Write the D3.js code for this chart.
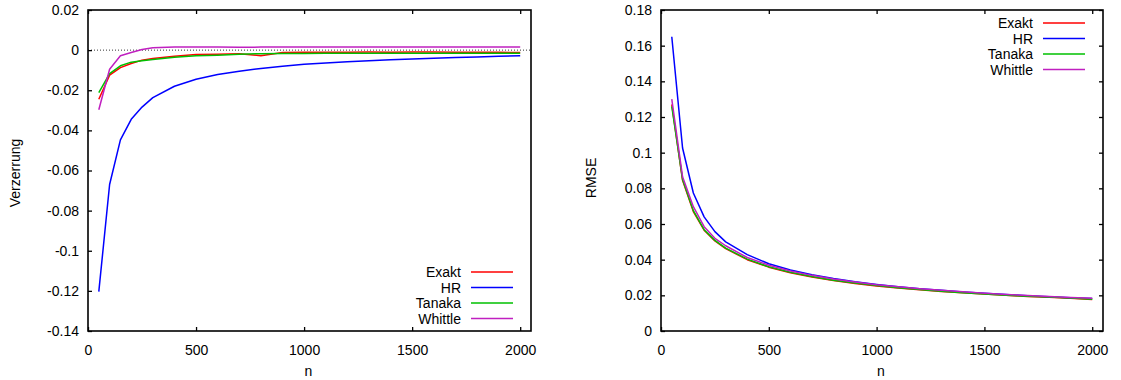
<!DOCTYPE html>
<html>
<head>
<meta charset="utf-8">
<script src="https://cdn.jsdelivr.net/npm/d3@7"></script>
<style>
  body { margin: 0; background: #fff; }
  text { font-family: "Liberation Sans", Arial, sans-serif; font-size: 14px; fill: #000; }
</style>
</head>
<body>
<div id="chart"></div>
<script>
// sample sizes
const nValues = [50, 100, 150, 200, 250, 300, 400, 500, 600, 700, 800, 900, 1000,
  1100, 1200, 1300, 1400, 1500, 1600, 1700, 1800, 1900, 2000];

const seriesNames = ["Exakt", "HR", "Tanaka", "Whittle"];
const seriesColors = ["#ff0000", "#0000ff", "#00c000", "#c020c0"];

// bias (Verzerrung)
const biasExakt = [-0.0245, -0.0125, -0.0087, -0.0067, -0.0050, -0.0042, -0.0030, -0.0022, -0.0020,
  -0.0018, -0.0028, -0.0012, -0.0011, -0.0010, -0.0010, -0.0009, -0.0010, -0.0009, -0.0009,
  -0.0010, -0.0011, -0.0011, -0.0012];
const biasHR = [-0.1204, -0.0670, -0.0447, -0.0345, -0.0284, -0.0237, -0.0180, -0.0145, -0.0122,
  -0.0105, -0.0091, -0.0080, -0.0071, -0.0064, -0.0058, -0.0053, -0.0048, -0.0044, -0.0040,
  -0.0037, -0.0034, -0.0031, -0.0028];
const biasTanaka = [-0.0212, -0.0117, -0.0078, -0.0060, -0.0053, -0.0047, -0.0035, -0.0028, -0.0025,
  -0.0020, -0.0018, -0.0017, -0.0017, -0.0016, -0.0016, -0.0015, -0.0016, -0.0015, -0.0015,
  -0.0015, -0.0015, -0.0015, -0.0015];
const biasWhittle = [-0.0297, -0.0095, -0.0028, -0.0012, 0.0003, 0.0012, 0.0015, 0.0015, 0.0015,
  0.0014, 0.0015, 0.0015, 0.0015, 0.0015, 0.0015, 0.0015, 0.0015, 0.0015, 0.0015,
  0.0015, 0.0015, 0.0015, 0.0015];

// RMSE
const rmseExakt = [0.127, 0.0845, 0.0670, 0.0565, 0.0505, 0.0462, 0.0400, 0.0358, 0.0327, 0.0303,
  0.0283, 0.0267, 0.0253, 0.0241, 0.0231, 0.0222, 0.0214, 0.0207, 0.0200, 0.0194, 0.0189,
  0.0184, 0.0177];
const rmseHR = [0.165, 0.1026, 0.0774, 0.0640, 0.0557, 0.0500, 0.0428, 0.0377, 0.0342, 0.0315,
  0.0294, 0.0276, 0.0261, 0.0248, 0.0237, 0.0228, 0.0219, 0.0211, 0.0204, 0.0198, 0.0192,
  0.0187, 0.0182];
const rmseTanaka = [0.126, 0.0850, 0.0675, 0.0568, 0.0508, 0.0465, 0.0403, 0.0360, 0.0329, 0.0305,
  0.0285, 0.0269, 0.0255, 0.0243, 0.0232, 0.0223, 0.0215, 0.0208, 0.0201, 0.0195, 0.0190,
  0.0185, 0.0178];
const rmseWhittle = [0.130, 0.0865, 0.0697, 0.0585, 0.0520, 0.0478, 0.0412, 0.0369, 0.0337, 0.0312,
  0.0292, 0.0275, 0.0260, 0.0248, 0.0237, 0.0228, 0.0220, 0.0212, 0.0205, 0.0199, 0.0193,
  0.0188, 0.0183];

// ticks
const xTicks = [0, 500, 1000, 1500, 2000];
const biasTicks = [0.02, 0, -0.02, -0.04, -0.06, -0.08, -0.1, -0.12, -0.14];
const biasTickLabels = ["0.02", "0", "-0.02", "-0.04", "-0.06", "-0.08", "-0.1", "-0.12", "-0.14"];
const rmseTicks = [0, 0.02, 0.04, 0.06, 0.08, 0.1, 0.12, 0.14, 0.16, 0.18];
const rmseTickLabels = ["0", "0.02", "0.04", "0.06", "0.08", "0.1", "0.12", "0.14", "0.16", "0.18"];

const width = 1121, height = 380;

const svg = d3.select("#chart")
  .append("svg")
  .attr("width", width)
  .attr("height", height)
  .attr("viewBox", `0 0 ${width} ${height}`);

// draws one gnuplot-like panel
const drawPanel = (p) => {
  const x = d3.scaleLinear().domain([0, 2050]).range([p.left, p.right]);
  const y = d3.scaleLinear().domain(p.yDomain).range([p.bottom, p.top]);
  const g = svg.append("g");

  // bottom axis with labels
  g.append("g")
    .attr("transform", `translate(0,${p.bottom})`)
    .call(d3.axisBottom(x).tickValues(xTicks).tickFormat(d3.format("d"))
      .tickSizeInner(-4).tickSizeOuter(0).tickPadding(14));
  // top mirror ticks
  g.append("g")
    .attr("transform", `translate(0,${p.top})`)
    .call(d3.axisTop(x).tickValues(xTicks).tickFormat("")
      .tickSizeInner(-4).tickSizeOuter(0));
  // left axis
  g.append("g")
    .attr("transform", `translate(${p.left},0)`)
    .call(d3.axisLeft(y).tickValues(p.yTicks).tickFormat((d, i) => p.yLabels[i])
      .tickSizeInner(-4).tickSizeOuter(0).tickPadding(9));
  if (p.mirrorY) {
    g.append("g")
      .attr("transform", `translate(${p.right},0)`)
      .call(d3.axisRight(y).tickValues(p.yTicks).tickFormat("")
        .tickSizeInner(-4).tickSizeOuter(0));
  }
  g.selectAll(".domain").remove();
  g.selectAll(".tick line").attr("stroke", "#000").attr("stroke-width", 1.3);
  g.selectAll(".tick text").attr("font-size", 14).attr("font-family", "Liberation Sans, Arial, sans-serif").attr("fill", "#000");

  if (p.zeroLine) {
    g.append("line")
      .attr("x1", p.left).attr("x2", p.right)
      .attr("y1", y(0)).attr("y2", y(0))
      .attr("stroke", "#000").attr("stroke-width", 0.8)
      .attr("stroke-dasharray", "1,2");
  }

  // curves
  const line = d3.line()
    .x((d, i) => x(nValues[i]))
    .y(d => y(d));
  p.series.forEach((s, k) => {
    g.append("path")
      .datum(s)
      .attr("fill", "none")
      .attr("stroke", seriesColors[k])
      .attr("stroke-width", 1.5)
      .attr("stroke-linejoin", "round")
      .attr("d", line);
  });

  // border
  g.append("rect")
    .attr("x", p.left).attr("y", p.top)
    .attr("width", p.right - p.left).attr("height", p.bottom - p.top)
    .attr("fill", "none").attr("stroke", "#000").attr("stroke-width", 1.6);

  // legend
  seriesNames.forEach((name, k) => {
    const ly = p.legendTop + k * 15.5;
    g.append("text")
      .attr("x", p.legendText).attr("y", ly + 5)
      .attr("text-anchor", "end")
      .text(name);
    g.append("line")
      .attr("x1", p.legendText + 10).attr("x2", p.legendText + 52)
      .attr("y1", ly).attr("y2", ly)
      .attr("stroke", seriesColors[k]).attr("stroke-width", 1.5);
  });

  // axis titles
  g.append("text")
    .attr("text-anchor", "middle")
    .attr("x", (p.left + p.right) / 2 - 1)
    .attr("y", 376)
    .text("n");
  g.append("text")
    .attr("text-anchor", "middle")
    .attr("transform", `translate(${p.yLabelX},${p.yLabelY}) rotate(-90)`)
    .text(p.yTitle);
};

drawPanel({
  left: 88, right: 531, top: 10, bottom: 331,
  yDomain: [-0.14, 0.02], yTicks: biasTicks, yLabels: biasTickLabels,
  mirrorY: false, zeroLine: true,
  series: [biasExakt, biasHR, biasTanaka, biasWhittle],
  legendTop: 272, legendText: 461,
  yTitle: "Verzerrung", yLabelX: 20, yLabelY: 173
});

drawPanel({
  left: 661, right: 1103, top: 10, bottom: 331,
  yDomain: [0, 0.18], yTicks: rmseTicks, yLabels: rmseTickLabels,
  mirrorY: true, zeroLine: false,
  series: [rmseExakt, rmseHR, rmseTanaka, rmseWhittle],
  legendTop: 23, legendText: 1033,
  yTitle: "RMSE", yLabelX: 596, yLabelY: 178
});
</script>
</body>
</html>
